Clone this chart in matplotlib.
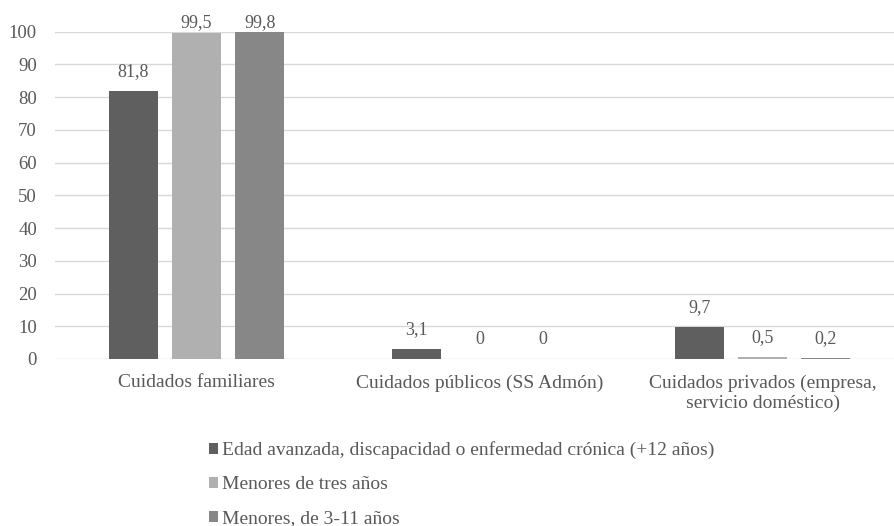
import matplotlib.pyplot as plt
import numpy as np

plt.rcParams['font.family'] = ['Liberation Serif', 'DejaVu Serif']

categorias = ["Cuidados familiares", "Cuidados públicos (SS Admón)",
              "Cuidados privados (empresa,\nservicio doméstico)"]
series = ["Edad avanzada, discapacidad o enfermedad crónica (+12 años)",
          "Menores de tres años",
          "Menores, de 3-11 años"]
edad = [81.8, 3.1, 9.7]
menores3 = [99.5, 0, 0.5]
menores311 = [99.8, 0, 0.2]
etiquetas = [["81,8", "3,1", "9,7"], ["99,5", "0", "0,5"], ["99,8", "0", "0,2"]]
colores = ["#5f5f5f", "#b0b0b0", "#878787"]
gris_texto = "#595959"

fig = plt.figure(figsize=(8.94, 5.26), dpi=100)
ax = fig.add_axes([0.0615, 0.3175, 0.9497, 0.6225])

x = np.arange(len(categorias))
ancho = 0.173
paso = 0.223
for i, vals in enumerate([edad, menores3, menores311]):
    pos = x + (i - 1) * paso
    ax.bar(pos, vals, ancho, color=colores[i], label=series[i], zorder=3)
    for p, v, t in zip(pos, vals, etiquetas[i]):
        # excel empuja las etiquetas altas hacia abajo para que quepan
        ax.text(p, min(v + 6, 102.6), t, ha="center", va="center",
                fontsize=13, color=gris_texto, clip_on=False)

ax.set_xlim(-0.5, 2.5)
ax.set_ylim(0, 100)
ax.set_yticks(range(0, 101, 10))
ax.set_xticks(x)
ax.set_xticklabels(categorias, fontsize=14, color=gris_texto, linespacing=1.2)
ax.tick_params(axis="y", labelsize=13.5, labelcolor=gris_texto, length=0, pad=13)
ax.tick_params(axis="x", length=0, pad=11)
ax.grid(axis="y", color="#d9d9d9", linewidth=1, zorder=0)
for s in ax.spines.values():
    s.set_visible(False)

fig.legend(loc="upper left", bbox_to_anchor=(0.234, 0.161), frameon=False,
           borderpad=0, borderaxespad=0, fontsize=14, handlelength=0.47,
           handleheight=0.47, handletextpad=0.2, labelspacing=0.88,
           labelcolor=gris_texto)

plt.savefig("out.png", dpi=100)
